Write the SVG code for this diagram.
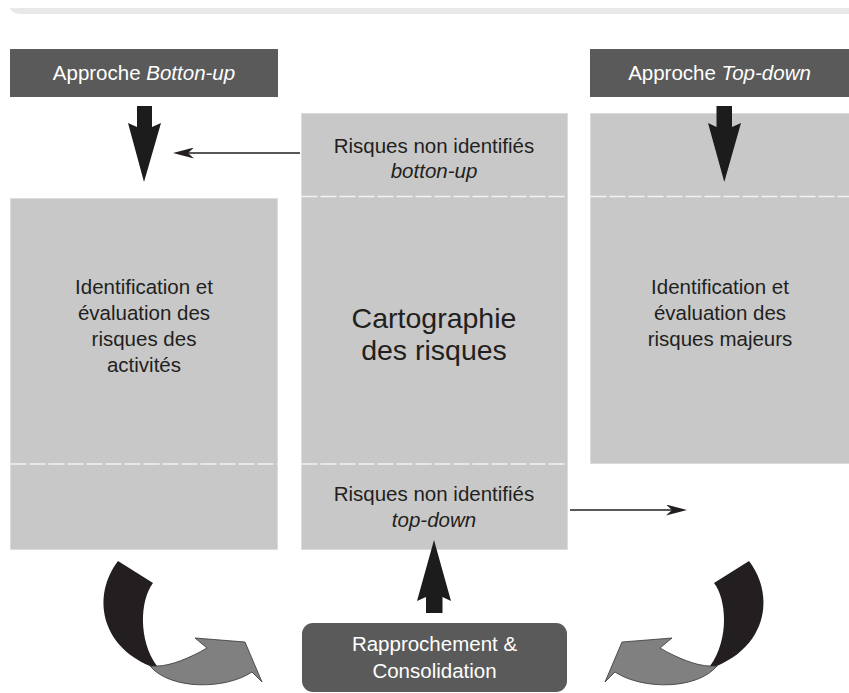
<svg xmlns="http://www.w3.org/2000/svg" width="849" height="693" viewBox="0 0 849 693">
  <style>
    .panel { fill: #c8c8c8; stroke: #dcdcdc; stroke-width: 1; }
    .head { fill: #5a5a5a; }
    .split { stroke: #f2f2f2; stroke-width: 1.6; stroke-dasharray: 16 3; fill: none; }
    .txt { font-family: "Liberation Sans", Arial, sans-serif; font-size: 20.5px; fill: #231f20; text-anchor: middle; }
    .big { font-size: 28.5px; }
    .white { fill: #ffffff; }
    .it { font-style: italic; }
    .thin { stroke: #231f20; stroke-width: 1.5; fill: none; }
    .bold-arrow { fill: #1c1c1c; }
    .ribbon { fill: #231f20; }
    .ribbon-tail { fill: #808080; stroke: #333333; stroke-width: 0.8; stroke-linejoin: miter; }
  </style>
  <defs>
    <marker id="tip" viewBox="0 0 21 11" refX="15" refY="5.5" markerWidth="21" markerHeight="11" markerUnits="userSpaceOnUse" orient="auto">
      <path d="M0,0 L21,5.5 L0,11 L6,5.5 Z" fill="#231f20"/>
    </marker>
    <!-- curved ribbon arrow, drawn once and mirrored for the right side -->
    <g id="swoosh">
      <path class="ribbon" d="M118,561 L153,583 C140,600 138,640 157,666 L150,666 C100,645 92,595 118,561 Z"/>
      <path class="ribbon-tail" d="M150,666 C170,690 225,690 252,672 L262,682 L245,642 L195,638 L207,648 C190,658 170,666 157,666 Z"/>
    </g>
  </defs>

  <!-- top rule -->
  <path d="M10,8 H849 V14 H22 Q12,14 10,8 Z" fill="#e8e8e8"/>

  <g id="header-bottom-up">
    <rect class="head" x="10" y="49" width="268" height="48"/>
    <text class="txt white" x="144" y="80" font-size="19.5">Approche <tspan class="it">Botton-up</tspan></text>
  </g>

  <g id="header-top-down">
    <rect class="head" x="590" y="49" width="259" height="48"/>
    <text class="txt white" x="719.5" y="80" font-size="19.5">Approche <tspan class="it">Top-down</tspan></text>
  </g>

  <g id="activites">
    <rect class="panel" x="10.5" y="198.5" width="267" height="351"/>
    <line class="split" x1="10.5" y1="464" x2="277.5" y2="464"/>
    <text class="txt" x="144" y="294">Identification et</text>
    <text class="txt" x="144" y="320">évaluation des</text>
    <text class="txt" x="144" y="346">risques des</text>
    <text class="txt" x="144" y="372">activités</text>
  </g>

  <g id="cartographie">
    <rect class="panel" x="301.5" y="113.5" width="266" height="436"/>
    <line class="split" x1="301.5" y1="196.5" x2="567.5" y2="196.5"/>
    <line class="split" x1="301.5" y1="464" x2="567.5" y2="464"/>
    <text class="txt" x="434" y="153">Risques non identifiés</text>
    <text class="txt it" x="434" y="178">botton-up</text>
    <text class="txt big" x="434" y="328">Cartographie</text>
    <text class="txt big" x="434" y="360">des risques</text>
    <text class="txt" x="434" y="501">Risques non identifiés</text>
    <text class="txt it" x="434" y="527">top-down</text>
  </g>

  <g id="majeurs">
    <rect class="panel" x="590.5" y="113.5" width="259" height="350"/>
    <line class="split" x1="590.5" y1="196.5" x2="849" y2="196.5"/>
    <text class="txt" x="720" y="294">Identification et</text>
    <text class="txt" x="720" y="320">évaluation des</text>
    <text class="txt" x="720" y="346">risques majeurs</text>
  </g>

  <g id="rapprochement">
    <rect class="head" x="302" y="623" width="265" height="69" rx="11" ry="11"/>
    <text class="txt white" x="434.5" y="651">Rapprochement &amp;</text>
    <text class="txt white" x="434.5" y="678">Consolidation</text>
  </g>

  <g id="connectors">
    <!-- heavy block arrows -->
    <polygon class="bold-arrow" points="137,106 152,106 152,127 161,123 144,182 128,123 137,127"/>
    <polygon class="bold-arrow" points="716.5,106 732,106 732,127 741,123 724.3,182 708,123 716.5,127"/>
    <polygon class="bold-arrow" points="434,540 451,601 442.5,597 442.5,613 426,613 426,597 417,601"/>
    <!-- thin arrows -->
    <line class="thin" x1="300" y1="153" x2="179" y2="153" marker-end="url(#tip)"/>
    <line class="thin" x1="570" y1="510" x2="681" y2="510" marker-end="url(#tip)"/>
    <!-- curved ribbon arrows -->
    <use href="#swoosh"/>
    <use href="#swoosh" transform="matrix(-1 0 0 1 867 0)"/>
  </g>
</svg>
